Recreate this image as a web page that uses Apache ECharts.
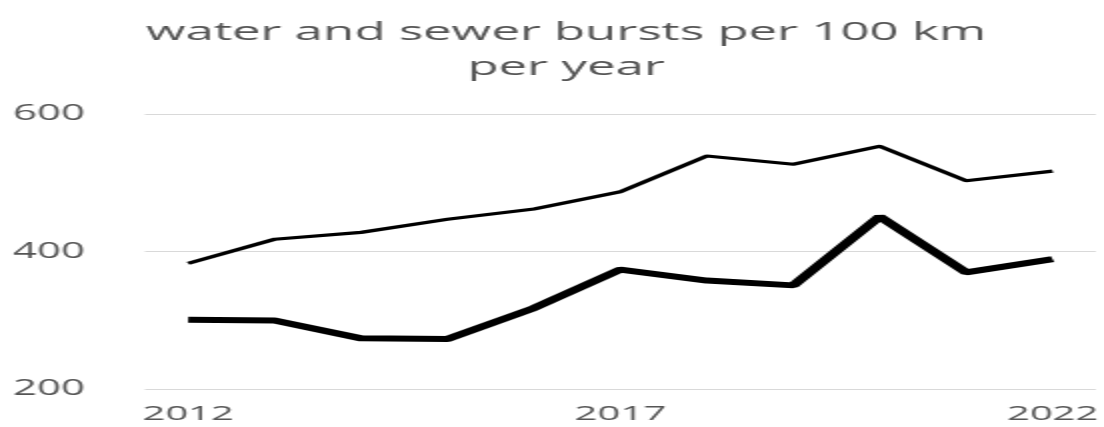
<!DOCTYPE html>
<html>
<head>
<meta charset="utf-8">
<script src="https://cdn.jsdelivr.net/npm/echarts@6/dist/echarts.min.js"></script>
<style>
  html, body { margin: 0; padding: 0; background: #fff; overflow: hidden; }
  /* the reference is a narrow chart stretched 2x horizontally */
  #main { width: 552px; height: 427px; transform: scaleX(2); transform-origin: 0 0; }
</style>
</head>
<body>
<div id="main"></div>
<script>
const years = ['2012', '2013', '2014', '2015', '2016', '2017', '2018', '2019', '2020', '2021', '2022'];
const upperSeries = [383, 418, 428, 447, 462, 487, 539, 527, 553, 503, 517];
const lowerSeries = [301, 300, 274, 273, 318, 374, 358, 351, 451, 370, 389];
const yTicks = [200, 400, 600];

const textColor = '#555555';
const font = 'Open Sans';

const chart = echarts.init(document.getElementById('main'));

chart.setOption({
  backgroundColor: '#fff',
  animation: false,
  title: {
    text: 'water and sewer bursts per 100 km\nper year',
    left: 278,
    top: 10,
    textAlign: 'center',
    textStyle: {
      color: textColor,
      fontFamily: font,
      fontWeight: 'normal',
      fontSize: 25.5,
      lineHeight: 35,
    },
  },
  grid: { left: 72.5, right: 0, top: 114, bottom: 37.7 },
  xAxis: {
    type: 'category',
    data: years,
    boundaryGap: true,
    axisLine: { show: false },
    axisTick: { show: false },
    axisLabel: {
      interval: 4,
      color: textColor,
      fontFamily: font,
      fontSize: 20,
      margin: 15,
    },
  },
  yAxis: {
    type: 'value',
    min: yTicks[0],
    max: yTicks[yTicks.length - 1],
    interval: 200,
    axisLine: { show: false },
    axisTick: { show: false },
    splitLine: { lineStyle: { color: '#d9d9d9', width: 1 } },
    axisLabel: {
      color: textColor,
      fontFamily: font,
      fontSize: 21,
      margin: 30,
    },
  },
  series: [
    {
      name: 'upper',
      type: 'line',
      data: upperSeries,
      symbol: 'none',
      lineStyle: { color: '#000', width: 3.2 },
    },
    {
      name: 'lower',
      type: 'line',
      data: lowerSeries,
      symbol: 'none',
      lineStyle: { color: '#000', width: 6 },
    },
  ],
});
</script>
</body>
</html>
